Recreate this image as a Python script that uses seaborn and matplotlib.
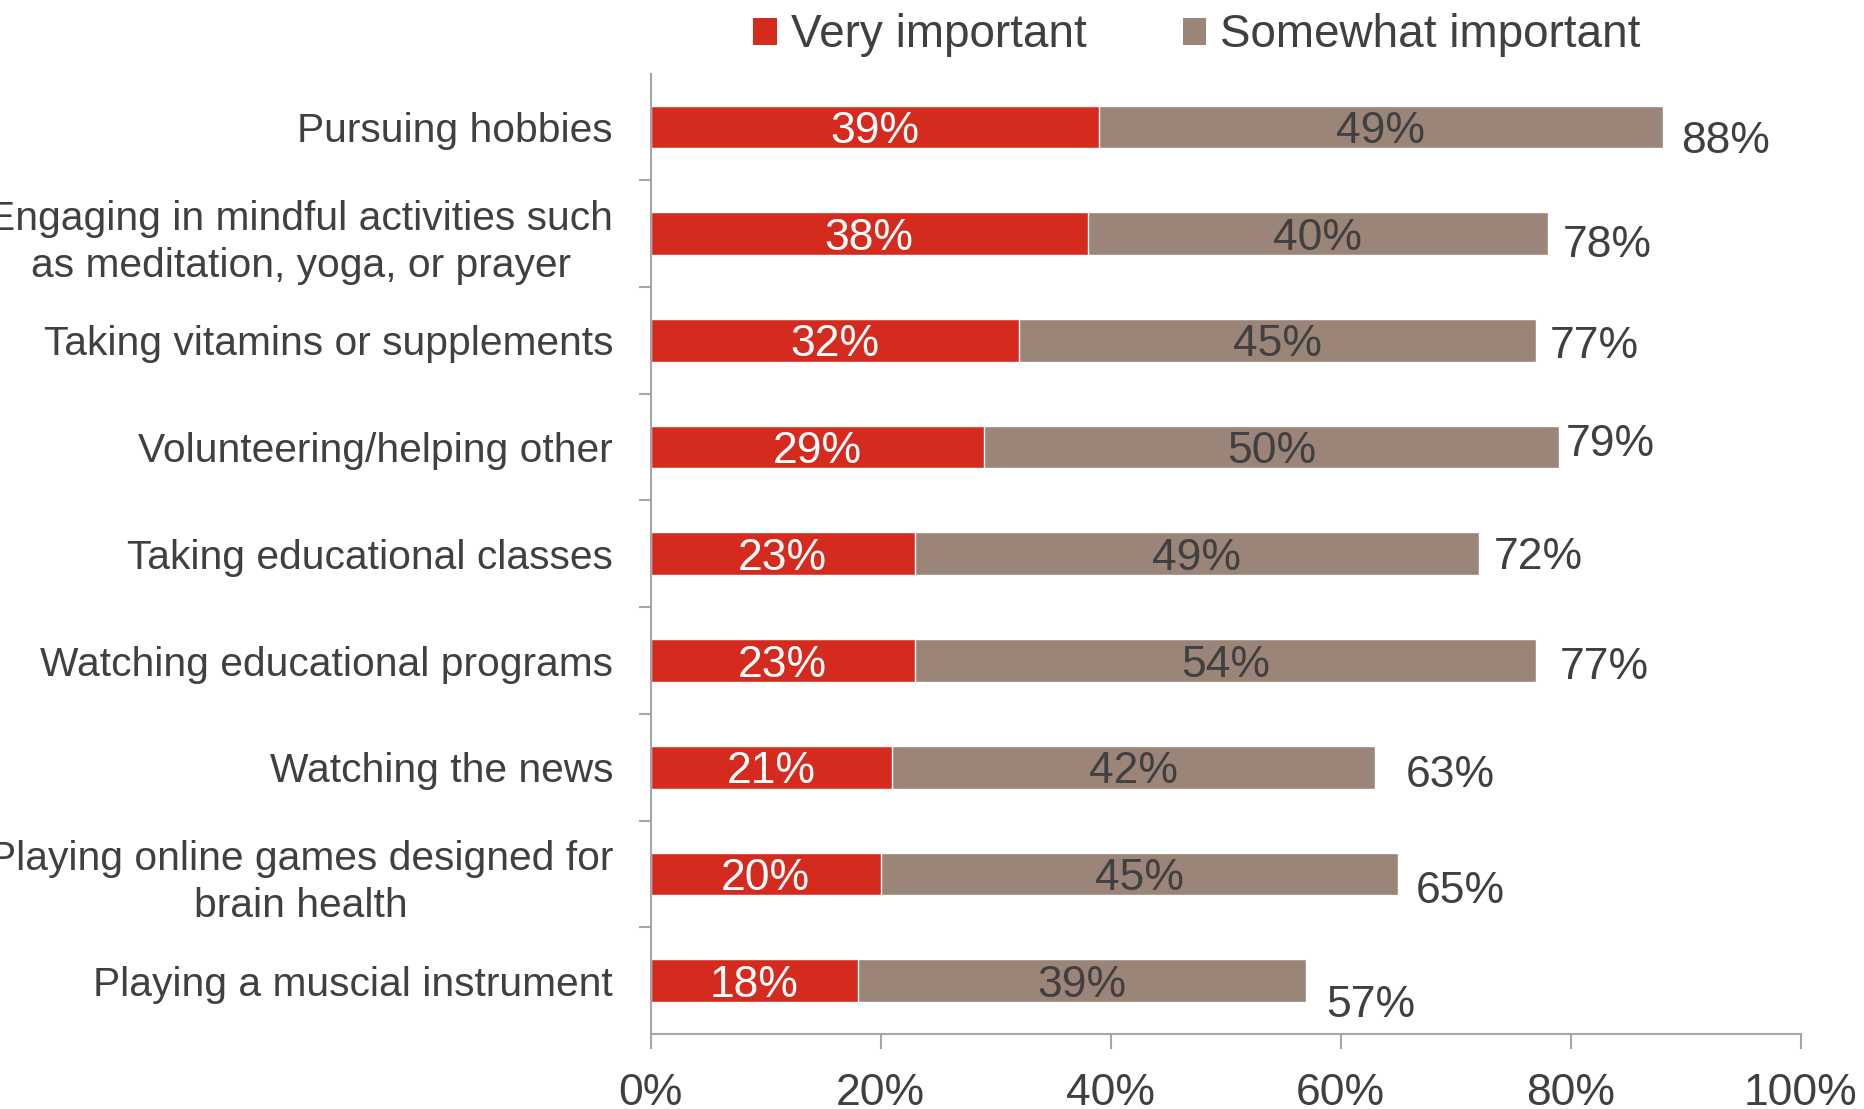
import matplotlib
matplotlib.use("Agg")
import matplotlib.pyplot as plt
from matplotlib.patches import Patch
from matplotlib.ticker import FixedLocator, PercentFormatter
import pandas as pd
import seaborn as sns

# Survey data: share rating each activity as important for brain health
activities = [
    "Pursuing hobbies",
    "Engaging in mindful activities such\nas meditation, yoga, or prayer",
    "Taking vitamins or supplements",
    "Volunteering/helping other",
    "Taking educational classes",
    "Watching educational programs",
    "Watching the news",
    "Playing online games designed for\nbrain health",
    "Playing a muscial instrument",
]
very_important = [39, 38, 32, 29, 23, 23, 21, 20, 18]
somewhat_important = [49, 40, 45, 50, 49, 54, 42, 45, 39]
total_important = [88, 78, 77, 79, 72, 77, 63, 65, 57]
x_ticks = [0, 20, 40, 60, 80, 100]
series_names = ["Very important", "Somewhat important"]

# Hand-placed nudges (pixels) for the total labels
total_dx = [19, 15, 14, 7, 15, 24, 31, 18, 20]
total_dy = [10, 7, 2, -7, -1, 2, 4, 13, 20]

RED = "#D52B1E"
TAUPE = "#9B8578"
TEXT = "#404040"
AXIS = "#A6A6A6"
FONT = ["Liberation Sans", "DejaVu Sans"]
NUM_SIZE = 32
HALF_CAP = 16  # pixels from visual centre of a number label to its baseline

sns.set_theme(style="white")
plt.rcParams["font.family"] = FONT

df = pd.DataFrame({
    "activity": activities,
    "very": very_important,
    "stack_end": [v + s for v, s in zip(very_important, somewhat_important)],
})

fig = plt.figure(figsize=(18.64, 11.09), dpi=100)
ax = fig.add_axes([0.349, 0.0676, 0.617, 0.866])

sns.barplot(data=df, x="stack_end", y="activity", color=TAUPE, width=0.4,
            saturation=1, orient="h", ax=ax)
sns.barplot(data=df, x="very", y="activity", color=RED, width=0.4,
            saturation=1, orient="h", ax=ax)

for i, (v, s, t) in enumerate(zip(very_important, somewhat_important, total_important)):
    ax.annotate(f"{v}%", xy=(v / 2, i), xytext=(0, -HALF_CAP),
                textcoords="offset pixels", ha="center", va="baseline",
                color="white", fontsize=NUM_SIZE)
    ax.annotate(f"{s}%", xy=(v + s / 2, i), xytext=(0, -HALF_CAP),
                textcoords="offset pixels", ha="center", va="baseline",
                color=TEXT, fontsize=NUM_SIZE)
    ax.annotate(f"{t}%", xy=(v + s, i),
                xytext=(total_dx[i], -HALF_CAP - total_dy[i]),
                textcoords="offset pixels", ha="left", va="baseline",
                color=TEXT, fontsize=NUM_SIZE)

ax.set_xlim(0, 100)
ax.set_ylim(len(activities) - 0.5, -0.5)
ax.xaxis.set_major_locator(FixedLocator(x_ticks))
ax.xaxis.set_major_formatter(PercentFormatter(decimals=0))
ax.set_xlabel("")
ax.set_ylabel("")

for side in ("top", "right"):
    ax.spines[side].set_visible(False)
for side in ("left", "bottom"):
    ax.spines[side].set_color(AXIS)
    ax.spines[side].set_linewidth(1.5)

ax.tick_params(axis="x", which="major", bottom=True, direction="out",
               length=11, width=1.5, color=AXIS, pad=17, labelsize=NUM_SIZE,
               labelcolor=TEXT)
ax.tick_params(axis="y", which="major", length=0, pad=27, labelsize=29.3,
               labelcolor=TEXT)
for lbl in ax.get_yticklabels():
    lbl.set_multialignment("center")
    lbl.set_linespacing(1.3)
ax.yaxis.set_minor_locator(FixedLocator([i + 0.5 for i in range(len(activities) - 1)]))
ax.tick_params(axis="y", which="minor", left=True, direction="out", length=9,
               width=1.5, color=AXIS)

handles = [Patch(facecolor=RED, edgecolor="none"),
           Patch(facecolor=TAUPE, edgecolor="none")]
fig.legend(handles, series_names, loc="center", bbox_to_anchor=(0.642, 0.968),
           ncol=2, frameon=False, fontsize=33, labelcolor=TEXT,
           handlelength=0.52, handleheight=0.52, handletextpad=0.3,
           columnspacing=2.1)

fig.savefig("out.png", dpi=100, facecolor="white")
